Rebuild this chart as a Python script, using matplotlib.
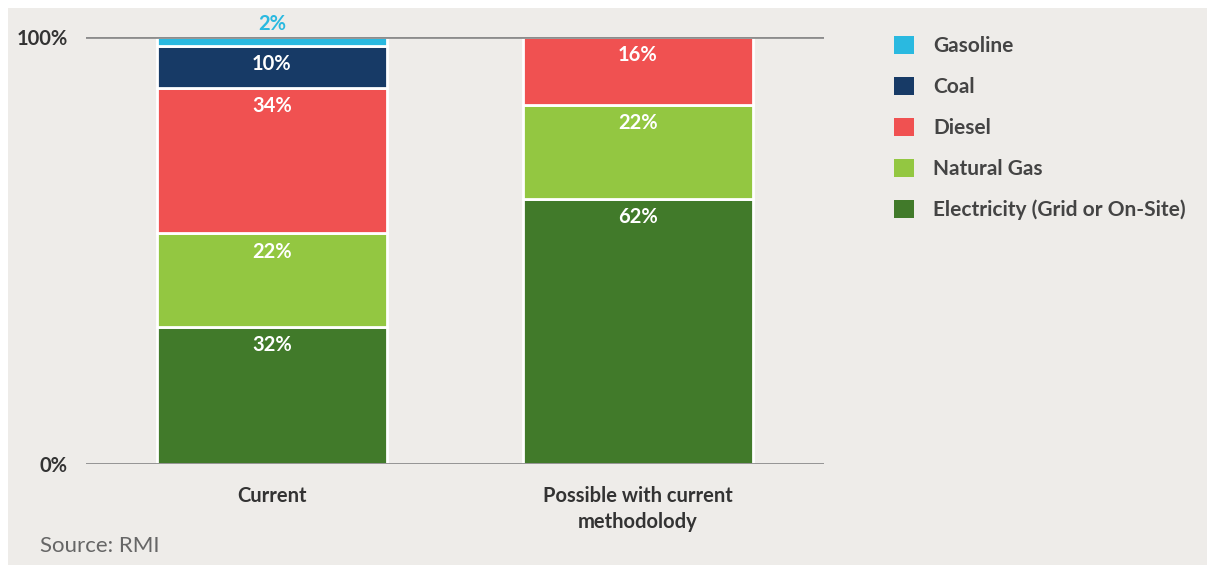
import numpy as np
import matplotlib.pyplot as plt
from matplotlib.patches import Rectangle, Patch

plt.rcParams['font.family'] = ['Lato', 'DejaVu Sans']

categories = ['Current', 'Possible with current\nmethodolody']
fuels = ['Electricity (Grid or On-Site)', 'Natural Gas', 'Diesel', 'Coal', 'Gasoline']
values = {
    'Electricity (Grid or On-Site)': [32, 62],
    'Natural Gas': [22, 22],
    'Diesel': [34, 16],
    'Coal': [10, 0],
    'Gasoline': [2, 0],
}
colors = {
    'Electricity (Grid or On-Site)': '#417a2a',
    'Natural Gas': '#93c741',
    'Diesel': '#f05151',
    'Coal': '#173a66',
    'Gasoline': '#2ab9e0',
}
bg = '#eeece9'

fig = plt.figure(figsize=(12.17, 5.67), dpi=100, facecolor='white')
fig.patches.append(Rectangle((8 / 1217, 2 / 567), 1199 / 1217, 557 / 567,
                             transform=fig.transFigure, facecolor=bg,
                             edgecolor='none', zorder=-10))
ax = fig.add_axes([86 / 1217, 1 - 464 / 567, 738 / 1217, 427 / 567])
ax.set_facecolor('none')

x = np.arange(len(categories))
bottom = np.zeros(len(categories))
for f in fuels:
    v = np.array(values[f], dtype=float)
    ax.bar(x, v, 0.63, bottom=bottom, color=colors[f], edgecolor='white',
           linewidth=2, zorder=2)
    for i in range(len(x)):
        if v[i] <= 0:
            continue
        top = bottom[i] + v[i]
        if v[i] < 5:
            ax.text(x[i], top + 0.6, f'{int(v[i])}%', ha='center', va='bottom',
                    color=colors[f], fontsize=14.5, fontweight='bold')
        else:
            ax.text(x[i], top - 1.9, f'{int(v[i])}%', ha='center', va='top',
                    color='white', fontsize=14.5, fontweight='bold')
    bottom += v

ax.set_xlim(-0.508, 1.508)
ax.set_ylim(0, 100)
ax.set_yticks([0, 100])
ax.set_yticklabels(['0%', '100%'])
ax.set_xticks(x)
ax.set_xticklabels(categories, linespacing=1.35)
ax.tick_params(axis='y', length=0, pad=13, labelsize=14.5, labelcolor='#333333')
ax.tick_params(axis='x', length=0, pad=16, labelsize=14.5, labelcolor='#333333')
for t in ax.get_yticklabels() + ax.get_xticklabels():
    t.set_fontweight('bold')
for s in ['top', 'right', 'left', 'bottom']:
    ax.spines[s].set_visible(False)
for yv in [0, 100]:
    ax.axhline(yv, color='#8c8c8c', linewidth=2, zorder=3)

handles = [Patch(facecolor=colors[f], edgecolor='none') for f in fuels[::-1]]
leg = fig.legend(handles, fuels[::-1], loc='upper left',
                 bbox_to_anchor=(875 / 1217, 1 - 17 / 567), frameon=False,
                 fontsize=15, labelspacing=1.0, handlelength=0.95,
                 handleheight=0.95, handletextpad=0.95)
for t in leg.get_texts():
    t.set_color('#444444')
    t.set_fontweight('bold')

fig.text(40 / 1217, 1 - 546 / 567, 'Source: RMI', fontsize=16, color='#666666',
         va='center')

fig.savefig('out.png', dpi=100, facecolor=fig.get_facecolor())
